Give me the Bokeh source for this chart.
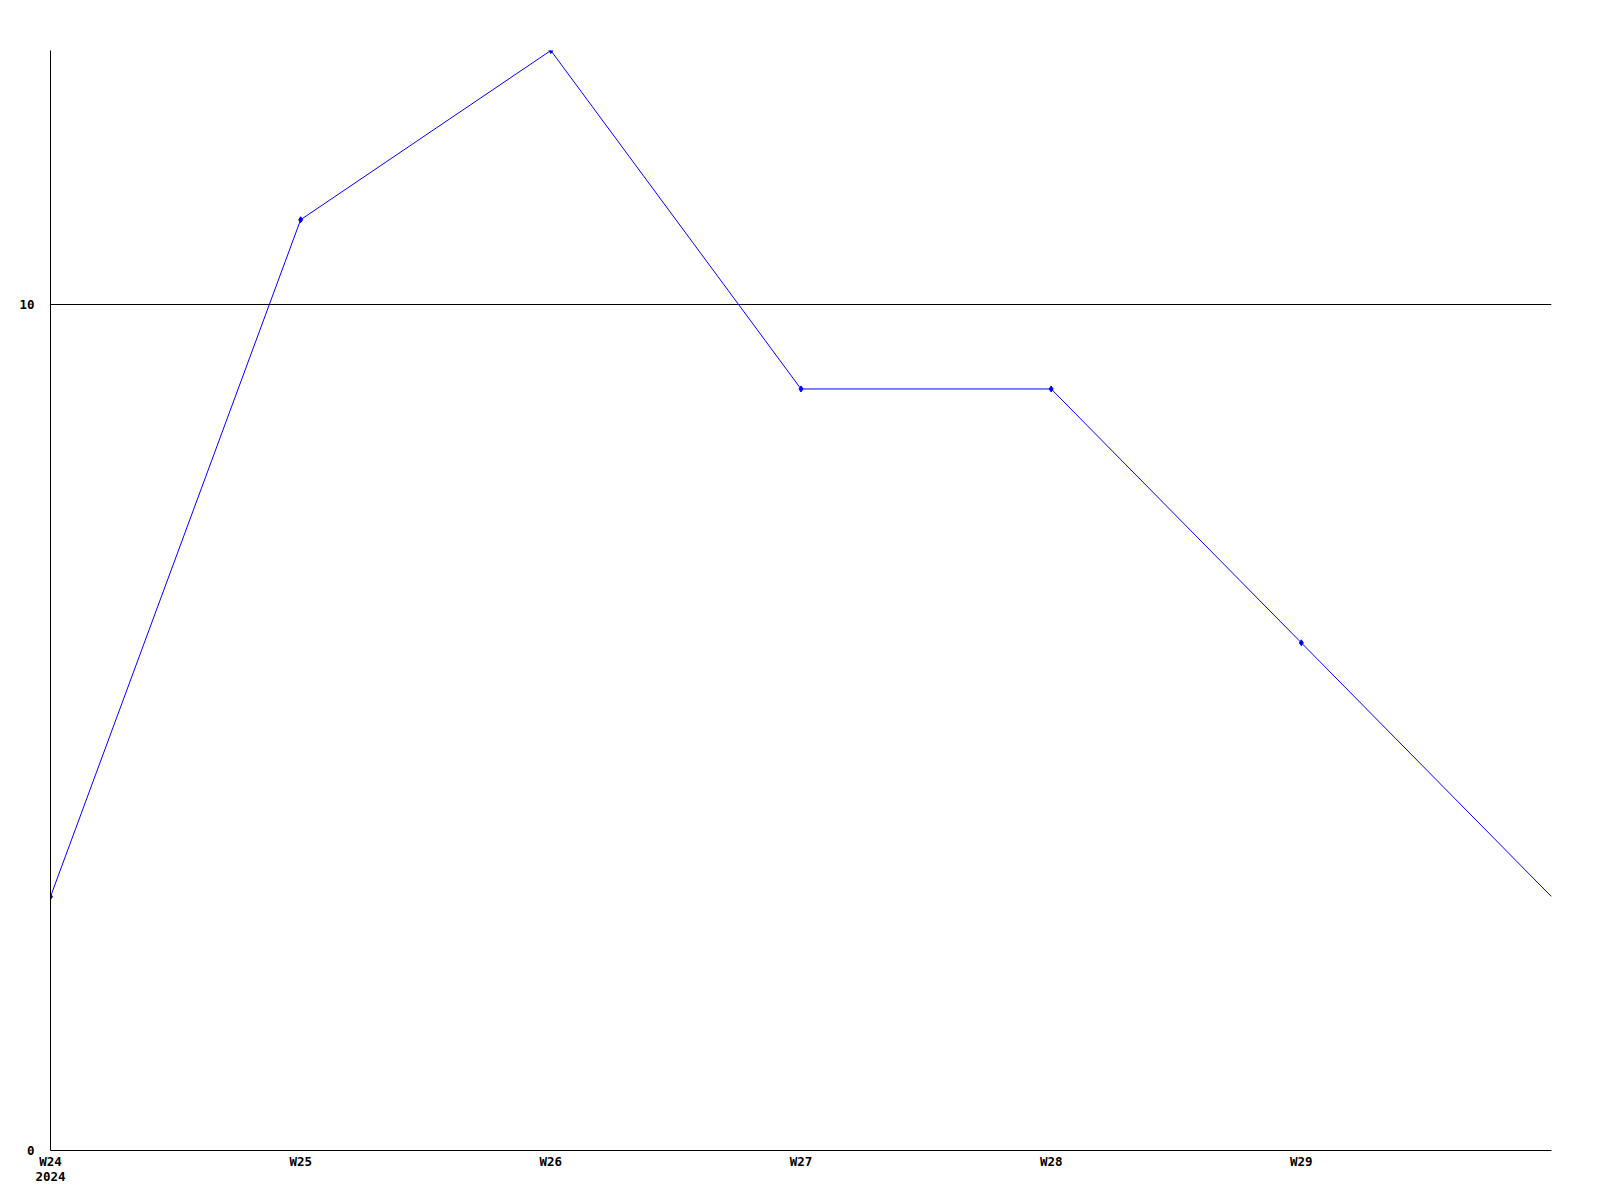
from bokeh.plotting import figure
from bokeh.models import FixedTicker, Range1d
from bokeh.embed import file_html
from bokeh.resources import INLINE

weeks = [24, 25, 26, 27, 28, 29, 30]
values = [3, 11, 13, 9, 9, 6, 3]
x_ticks = [24, 25, 26, 27, 28, 29]
x_tick_labels = ["W24\n2024", "W25", "W26", "W27", "W28", "W29"]
y_ticks = [0, 10]

FONT = "DejaVu Sans Mono"

p = figure(width=1584, height=1184, output_backend="svg", toolbar_location=None,
           x_range=Range1d(24, 30), y_range=Range1d(0, 13),
           frame_width=1501, frame_height=1100,
           min_border_left=50, min_border_top=50, min_border_right=33, min_border_bottom=34)
p.outline_line_color = None
p.background_fill_color = "white"
p.border_fill_color = "white"

p.line(weeks, values, line_color="#0000ff", line_width=1)
p.scatter(weeks[:-1], values[:-1], marker="diamond", size=6, color="#0000ff")

p.xaxis.ticker = FixedTicker(ticks=x_ticks)
p.xaxis.major_label_overrides = {t: l for t, l in zip(x_ticks, x_tick_labels)}
p.yaxis.ticker = FixedTicker(ticks=y_ticks)

for ax in (p.xaxis[0], p.yaxis[0]):
    ax.axis_line_color = "black"
    ax.axis_line_width = 1
    ax.major_tick_line_color = None
    ax.minor_tick_line_color = None
    ax.major_tick_out = 0
    ax.major_tick_in = 0
    ax.minor_tick_out = 0
    ax.minor_tick_in = 0
    ax.major_label_text_font = FONT
    ax.major_label_text_font_style = "bold"
    ax.major_label_text_font_size = "12.5px"
    ax.major_label_text_color = "black"

p.xaxis.major_label_standoff = 3
p.xaxis.major_label_text_line_height = 1.0
p.yaxis.major_label_standoff = 16

p.xgrid.grid_line_color = None
p.ygrid.grid_line_color = "black"
p.ygrid.grid_line_alpha = 1
p.ygrid.grid_line_width = 1

open("out.html", "w").write(file_html(p, INLINE))
